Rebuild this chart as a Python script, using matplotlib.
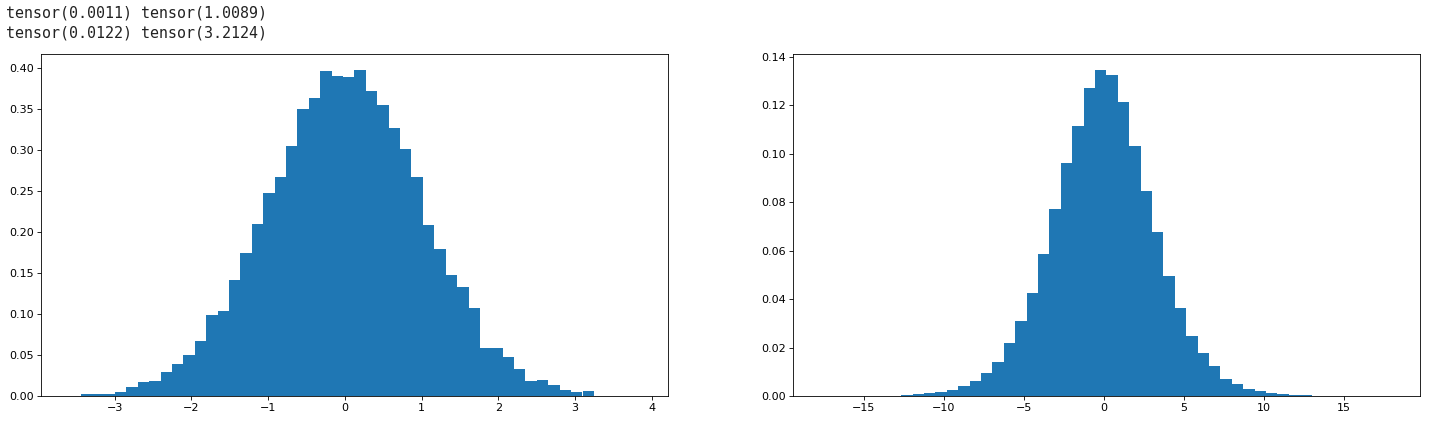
import numpy as np
import matplotlib
matplotlib.use("Agg")
import matplotlib.pyplot as plt

# printed lines above the figure (notebook output)
PRINT_LINES = [
    "tensor(0.0011) tensor(1.0089)",
    "tensor(0.0122) tensor(3.2124)",
]

# left histogram: 50 bins between data min and max, density heights
LEFT_RANGE = (-3.59, 3.84)
LEFT_HEIGHTS = [
    0.0004, 0.0024, 0.0024, 0.0024, 0.0049, 0.0110, 0.0167, 0.0180, 0.0297, 0.0387,
    0.0505, 0.0676, 0.0989, 0.1034, 0.1416, 0.1740, 0.2100, 0.2479, 0.2666, 0.3053,
    0.3496, 0.3635, 0.3964, 0.3900, 0.3887, 0.3972, 0.3724, 0.3550, 0.3268, 0.3012,
    0.2670, 0.2088, 0.1790, 0.1477, 0.1327, 0.1070, 0.0590, 0.0590, 0.0472, 0.0330,
    0.0180, 0.0199, 0.0134, 0.0077, 0.0049, 0.0057, 0.0004, 0.0004, 0.0000, 0.0004,
]

# right histogram
RIGHT_RANGE = (-17.64, 17.97)
RIGHT_HEIGHTS = [
    0.0001, 0.0000, 0.0000, 0.0000, 0.0000, 0.0001, 0.0001, 0.0003, 0.0008, 0.0012,
    0.0017, 0.0026, 0.0041, 0.0062, 0.0094, 0.0141, 0.0218, 0.0309, 0.0427, 0.0584,
    0.0772, 0.0963, 0.1116, 0.1270, 0.1344, 0.1323, 0.1214, 0.1032, 0.0846, 0.0677,
    0.0496, 0.0362, 0.0248, 0.0176, 0.0124, 0.0070, 0.0050, 0.0030, 0.0019, 0.0012,
    0.0008, 0.0004, 0.0003, 0.0001, 0.0001, 0.0000, 0.0000, 0.0000, 0.0000, 0.0001,
]

# the reference is an inline figure rendered at a lower dpi, so scale styles down
plt.rcParams.update({
    "font.size": 8.0,
    "axes.linewidth": 0.6,
    "xtick.major.size": 2.6,
    "ytick.major.size": 2.6,
    "xtick.major.width": 0.6,
    "ytick.major.width": 0.6,
    "xtick.major.pad": 2.6,
    "ytick.major.pad": 2.6,
})


def draw_hist(ax, rng, heights):
    edges = np.linspace(rng[0], rng[1], len(heights) + 1)
    ax.hist(edges[:-1], bins=edges, weights=heights, color="#1f77b4")


fig = plt.figure(figsize=(14.29, 4.23), dpi=100)

fig.text(0.004, 1 - 13 / 423, PRINT_LINES[0], family="DejaVu Sans Mono",
         fontsize=10.8, va="center", ha="left", color="#222222")
fig.text(0.004, 1 - 33 / 423, PRINT_LINES[1], family="DejaVu Sans Mono",
         fontsize=10.8, va="center", ha="left", color="#222222")

ax1 = fig.add_axes([41 / 1429, 27 / 423, 627 / 1429, 342 / 423])
draw_hist(ax1, LEFT_RANGE, LEFT_HEIGHTS)

ax2 = fig.add_axes([793 / 1429, 27 / 423, 627 / 1429, 342 / 423])
draw_hist(ax2, RIGHT_RANGE, RIGHT_HEIGHTS)

fig.savefig("out.png", dpi=100)
